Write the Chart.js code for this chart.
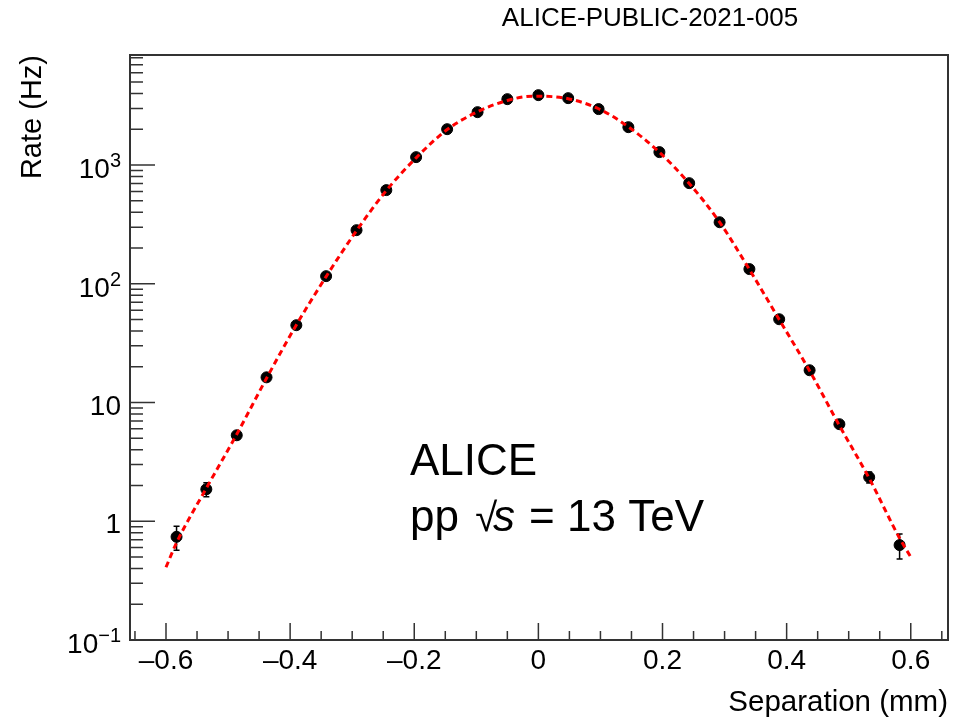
<!DOCTYPE html>
<html>
<head>
<meta charset="utf-8">
<script src="https://cdn.jsdelivr.net/npm/chart.js@4/dist/chart.umd.min.js"></script>
<style>
  body { margin: 0; background: #fff; }
  #wrap { width: 964px; height: 717px; }
</style>
</head>
<body>
<div id="wrap"><canvas id="scan" width="964" height="717"></canvas></div>
<script>
// van der Meer scan points: separation (mm) vs rate (Hz)
var separation = [-0.583, -0.535, -0.486, -0.438, -0.390, -0.342, -0.293, -0.245, -0.197,
    -0.147, -0.098, -0.050, 0.000, 0.048, 0.097, 0.145, 0.195, 0.243, 0.292, 0.340,
    0.388, 0.437, 0.485, 0.533, 0.582];
var rate = [0.74, 1.86, 5.3, 16.3, 44.8, 116, 283, 615, 1166, 2005, 2790, 3590, 3880,
    3660, 2960, 2085, 1285, 704, 330, 133, 50.3, 18.7, 6.57, 2.35, 0.63];
var rateErr = [0.17, 0.25, 0.3, 0.6, 1.2, 2.5, 4, 6, 8, 11, 13, 15, 16, 15, 14, 11, 9,
    6, 4, 2.5, 1.3, 0.7, 0.4, 0.25, 0.15];

// fitted curve
var fitX = [-0.600, -0.583, -0.535, -0.486, -0.438, -0.390, -0.342, -0.293, -0.245, -0.197,
    -0.147, -0.098, -0.050, -0.010, 0.000, 0.048, 0.097, 0.145, 0.195, 0.243, 0.292,
    0.340, 0.388, 0.437, 0.485, 0.533, 0.582, 0.600];
var fitY = [0.41, 0.66, 1.9, 5.4, 16.0, 45, 115, 280, 610, 1150, 1990, 2810, 3500, 3800,
    3800, 3620, 2980, 2100, 1280, 700, 330, 132, 50, 18.5, 6.4, 2.3, 0.72, 0.5];

var xTicks = [-0.6, -0.4, -0.2, 0, 0.2, 0.4, 0.6];
var xTickLabels = ['\u20130.6', '\u20130.4', '\u20130.2', '0', '0.2', '0.4', '0.6'];
var yTicks = [0.1, 1, 10, 100, 1000];
var yTickBase = ['10', '1', '10', '10', '10'];
var yTickExp = ['\u22121', '', '', '2', '3'];

var FONT = '"Liberation Sans", Arial, sans-serif';

function toPoints(xs, ys) {
    var pts = [];
    for (var i = 0; i < xs.length; i++) {
        pts.push({ x: xs[i], y: ys[i] });
    }
    return pts;
}

// error bars under the markers
var errorBars = {
    id: 'errorBars',
    beforeDatasetsDraw: function(chart) {
        var ctx = chart.ctx;
        var xs = chart.scales.x, ys = chart.scales.y;
        ctx.save();
        ctx.strokeStyle = '#000';
        ctx.lineWidth = 1.5;
        for (var i = 0; i < separation.length; i++) {
            var px = xs.getPixelForValue(separation[i]);
            var top = ys.getPixelForValue(rate[i] + rateErr[i]);
            var bot = ys.getPixelForValue(Math.max(rate[i] - rateErr[i], 0.01));
            ctx.beginPath();
            ctx.moveTo(px, top); ctx.lineTo(px, bot);
            ctx.moveTo(px - 3, top); ctx.lineTo(px + 3, top);
            ctx.moveTo(px - 3, bot); ctx.lineTo(px + 3, bot);
            ctx.stroke();
        }
        ctx.restore();
    }
};

// frame, tick marks and all text
var frame = {
    id: 'frame',
    afterDraw: function(chart) {
        var ctx = chart.ctx;
        var a = chart.chartArea;
        var xs = chart.scales.x, ys = chart.scales.y;
        ctx.save();

        ctx.strokeStyle = '#333';
        ctx.lineWidth = 2;
        ctx.strokeRect(a.left, a.top, a.right - a.left, a.bottom - a.top);

        // x ticks every 0.05, labelled every 0.2
        ctx.lineWidth = 1.5;
        ctx.beginPath();
        for (var k = -13; k <= 13; k++) {
            var v = k * 0.05;
            var px = xs.getPixelForValue(v);
            var len = (k % 4 === 0) ? 17 : 9;
            ctx.moveTo(px, a.bottom);
            ctx.lineTo(px, a.bottom - len);
        }
        // y ticks: decades long, 2..9 short
        for (var d = -1; d <= 3; d++) {
            for (var m = 1; m <= 9; m++) {
                var val = m * Math.pow(10, d);
                if (val > ys.max) break;
                var py = ys.getPixelForValue(val);
                ctx.moveTo(a.left, py);
                ctx.lineTo(a.left + (m === 1 ? 25 : 13), py);
            }
        }
        ctx.stroke();

        ctx.fillStyle = '#000';
        ctx.font = '28px ' + FONT;
        ctx.textAlign = 'center';
        ctx.textBaseline = 'alphabetic';
        for (var i = 0; i < xTicks.length; i++) {
            ctx.fillText(xTickLabels[i], xs.getPixelForValue(xTicks[i]), a.bottom + 29);
        }

        ctx.textAlign = 'right';
        for (var j = 0; j < yTicks.length; j++) {
            var ty = ys.getPixelForValue(yTicks[j]);
            var right = 121;
            if (yTickExp[j]) {
                ctx.font = '20px ' + FONT;
                ctx.fillText(yTickExp[j], right, ty + 2);
                right -= ctx.measureText(yTickExp[j]).width;
                ctx.font = '28px ' + FONT;
                ctx.fillText(yTickBase[j], right, ty + 13);
            } else {
                ctx.font = '28px ' + FONT;
                ctx.fillText(yTickBase[j], right, ty + 12);
            }
        }

        // axis titles
        ctx.font = '29.5px ' + FONT;
        ctx.textAlign = 'right';
        ctx.fillText('Separation (mm)', a.right, 711);
        ctx.save();
        ctx.font = '29px ' + FONT;
        ctx.translate(41, a.top);
        ctx.rotate(-Math.PI / 2);
        ctx.fillText('Rate (Hz)', 0, 0);
        ctx.restore();

        ctx.textAlign = 'center';
        ctx.font = '26px ' + FONT;
        ctx.fillText('ALICE-PUBLIC-2021-005', 650, 26);

        // ALICE label
        ctx.textAlign = 'left';
        ctx.font = '44px ' + FONT;
        ctx.fillText('ALICE', 410, 475);
        var x = 410, base = 531;
        ctx.fillText('pp', x, base);
        x += ctx.measureText('pp ').width + 6;
        ctx.font = '40px ' + FONT;
        ctx.fillText('\u221A', x - 2, base);
        x += ctx.measureText('\u221A').width - 6;
        ctx.font = 'italic 44px ' + FONT;
        ctx.fillText('s', x, base);
        x += ctx.measureText('s').width + 14;
        ctx.font = '44px ' + FONT;
        ctx.fillText('= 13 TeV', x, base);

        ctx.restore();
    }
};

var scanChart = new Chart(document.getElementById('scan').getContext('2d'), {
    type: 'scatter',
    data: {
        datasets: [{
            label: 'fit',
            type: 'line',
            data: toPoints(fitX, fitY),
            borderColor: '#ff0000',
            borderWidth: 3,
            borderDash: [6, 4],
            pointRadius: 0,
            cubicInterpolationMode: 'monotone',
            fill: false,
            order: 0
        }, {
            label: 'data',
            data: toPoints(separation, rate),
            backgroundColor: '#000',
            borderColor: '#000',
            pointRadius: 5.5,
            order: 1
        }]
    },
    options: {
        responsive: false,
        animation: false,
        layout: { padding: { left: 130, top: 55, right: 16, bottom: 77 } },
        plugins: {
            legend: { display: false },
            tooltip: { enabled: false }
        },
        scales: {
            x: { type: 'linear', display: false, min: -0.658, max: 0.66, bounds: 'data' },
            y: { type: 'logarithmic', display: false, min: 0.1, max: 8450, bounds: 'data' }
        }
    },
    plugins: [errorBars, frame]
});
</script>
</body>
</html>
